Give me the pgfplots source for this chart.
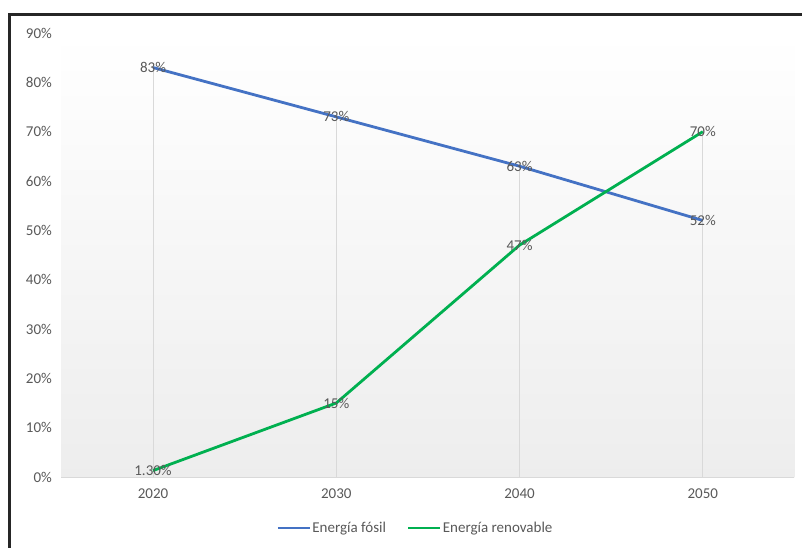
\documentclass[border=0pt]{standalone}
\usepackage{pgfplots}
\pgfplotsset{compat=1.18}
\usepackage{fontspec}
\setmainfont{Carlito}
\definecolor{fosil}{RGB}{68,114,196}
\definecolor{renov}{RGB}{0,176,80}
\definecolor{txt}{RGB}{89,89,89}
\definecolor{drop}{RGB}{217,217,217}
\begin{document}
\begin{tikzpicture}[x=1pt,y=1pt]
\useasboundingbox (0,0) rectangle (802,547);
\fill[white] (0,0) rectangle (802,547);
\begin{axis}[
  at={(61.4pt,70pt)}, anchor=south west,
  scale only axis, width=733pt, height=444pt,
  xmin=-0.5, xmax=3.5, ymin=0, ymax=90,
  xtick={0,1,2,3}, xticklabels={2020,2030,2040,2050},
  ytick={0,10,...,90},
  yticklabel={\pgfmathprintnumber{\tick}\%},
  /pgf/number format/assume math mode=true,
  major tick length=0pt,
  axis x line*=bottom, axis y line*=left,
  x axis line style={draw=drop, line width=1pt, -},
  y axis line style={draw=none},
  axis background/.style={shade, top color=white, bottom color=black!7},
  tick label style={font=\fontsize{15}{17}\selectfont, text=txt},
  xticklabel style={yshift=-8pt},
  yticklabel style={xshift=-6pt},
  legend style={at={(0.4824,-0.1149)}, anchor=center, draw=none, fill=none,
    legend columns=2, font=\fontsize{15}{17}\selectfont, text=txt,
    /tikz/every even column/.append style={column sep=20pt},
    nodes={inner sep=1pt}},
  legend image code/.code={\draw[#1] (0pt,0pt) -- (32pt,0pt);},
  clip=false,
]
\addplot[ycomb, draw=drop, line width=1pt, forget plot] coordinates {(0,83) (1,73) (2,63) (3,70)};
\addplot[fosil, line width=2.8pt, point meta=explicit symbolic,
  nodes near coords={\pgfplotspointmeta\%}, nodes near coords align=center,
  every node near coord/.append style={font=\fontsize{15}{17}\selectfont, text=txt, inner sep=0pt}]
  table[x=x, y=y, meta=lab] {
x y lab
0 83 83
1 73 73
2 63 63
3 52 52
};
\addlegendentry{Energía fósil}
\addplot[renov, line width=2.8pt, point meta=explicit symbolic,
  nodes near coords={\pgfplotspointmeta\%}, nodes near coords align=center,
  every node near coord/.append style={font=\fontsize{15}{17}\selectfont, text=txt, inner sep=0pt}]
  table[x=x, y=y, meta=lab] {
x y lab
0 1.3 1.30
1 15 15
2 47 47
3 70 70
};
\addlegendentry{Energía renovable}
\end{axis}
\draw[black!85, line width=3.2pt] (9.3,-5) -- (9.3,532.5) -- (810,532.5);
\end{tikzpicture}
\end{document}
